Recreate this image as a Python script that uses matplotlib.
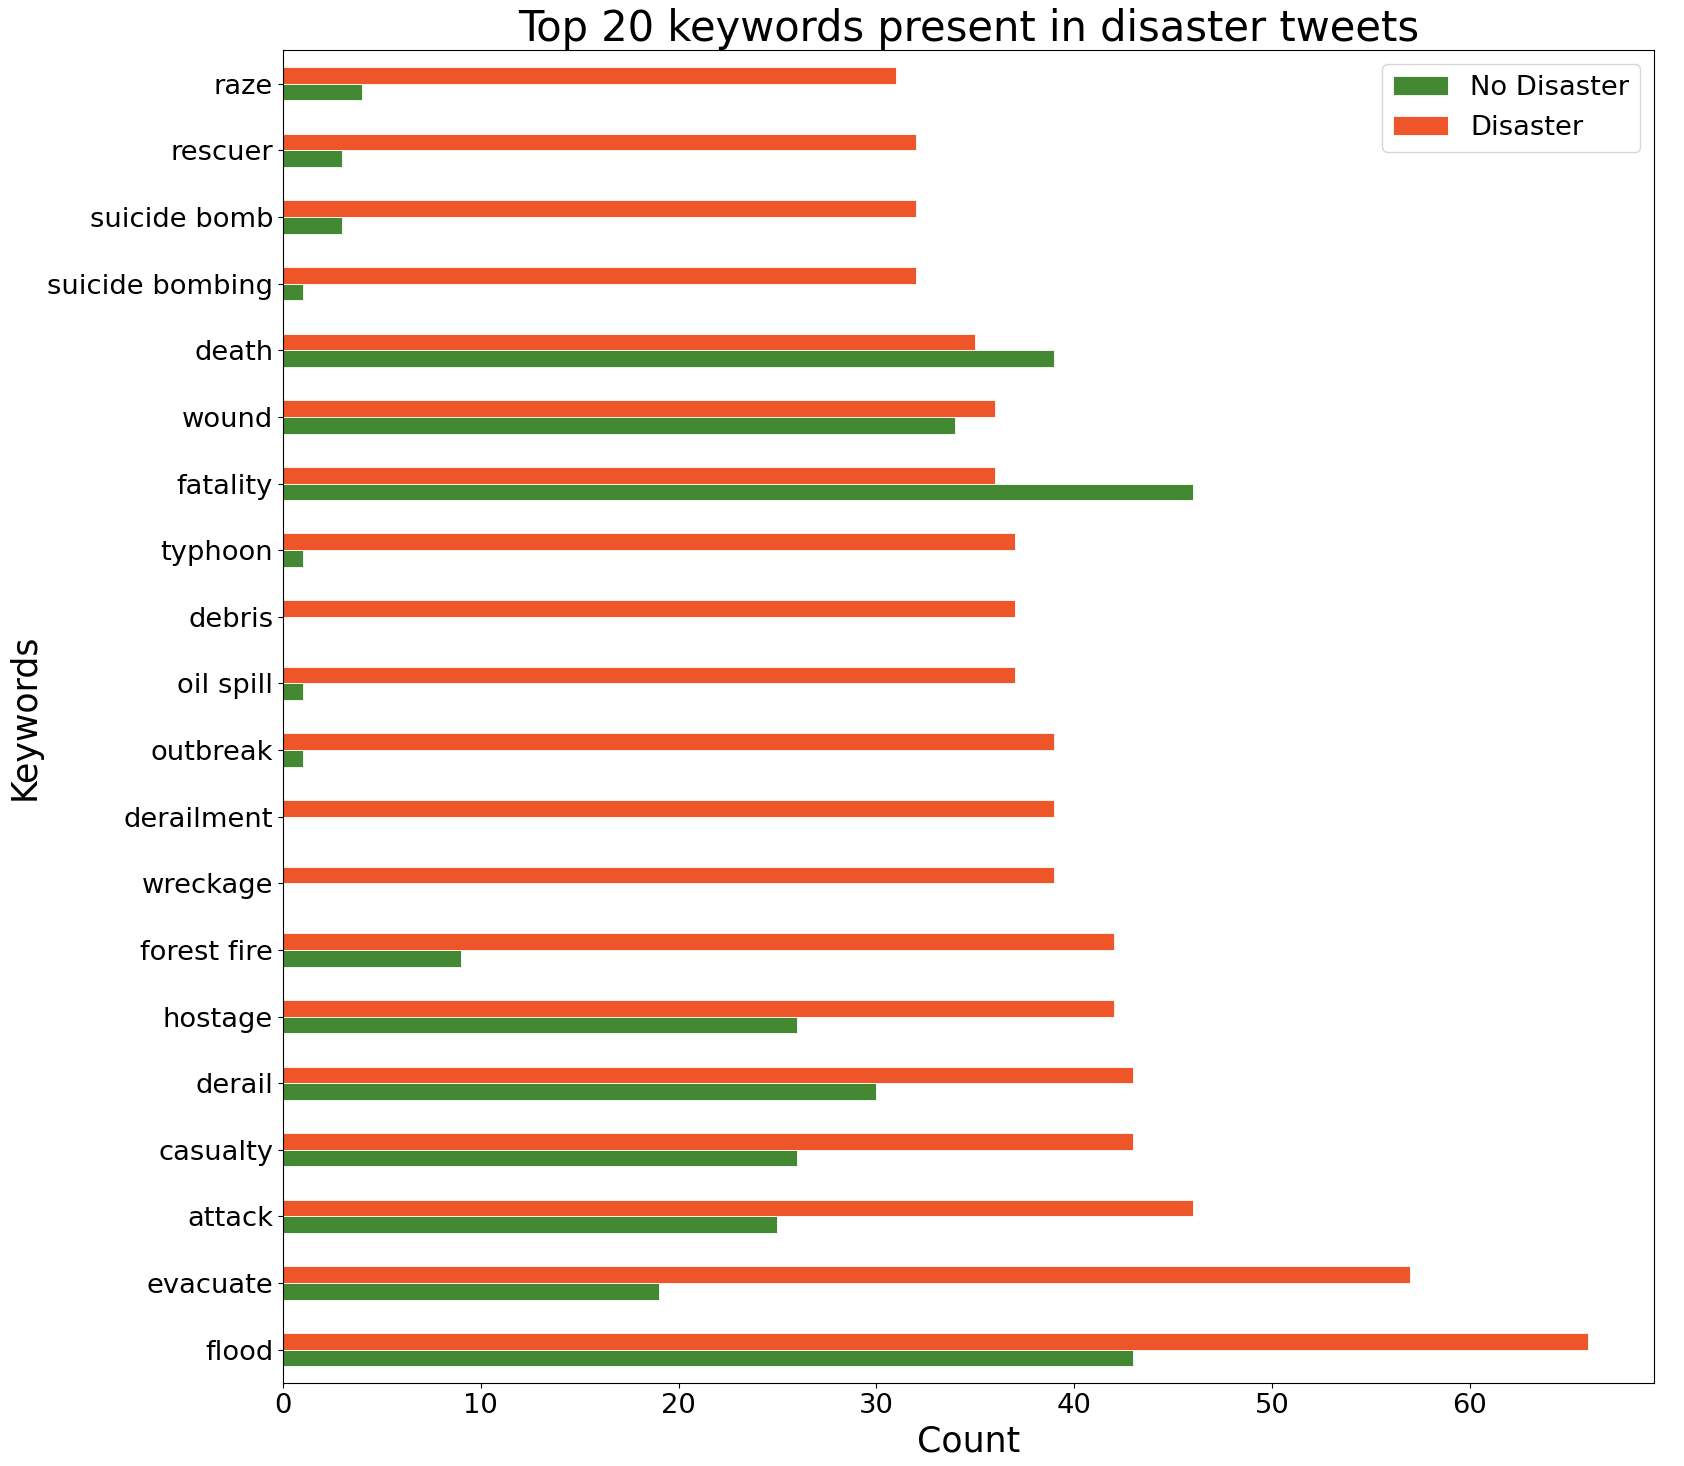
import numpy as np
import pandas as pd
import matplotlib
matplotlib.use('Agg')
import matplotlib.pyplot as plt

keywords = ['flood', 'evacuate', 'attack', 'casualty', 'derail', 'hostage', 'forest fire',
            'wreckage', 'derailment', 'outbreak', 'oil spill', 'debris', 'typhoon',
            'fatality', 'wound', 'death', 'suicide bombing', 'suicide bomb', 'rescuer', 'raze']
no_disaster = [43, 19, 25, 26, 30, 26, 9, 0, 0, 1, 1, 0, 1, 46, 34, 39, 1, 3, 3, 4]
disaster = [66, 57, 46, 43, 43, 42, 42, 39, 39, 39, 37, 37, 37, 36, 36, 35, 32, 32, 32, 31]

df = pd.DataFrame({'No Disaster': no_disaster, 'Disaster': disaster}, index=keywords)

fig = plt.figure(figsize=(16.84, 14.66), dpi=100, facecolor='white')
ax = fig.add_axes([0.168, 0.0566, 0.814, 0.909])

df.plot(kind='barh', ax=ax, color=['#438833', '#ee5529'], edgecolor='white', linewidth=0.6)

ax.set_title('Top 20 keywords present in disaster tweets', fontsize=30)
ax.set_xlabel('Count', fontsize=25)
ax.set_ylabel('Keywords', fontsize=25)
ax.tick_params(axis='both', labelsize=19.7)
ax.legend(fontsize=19.7, loc='upper right')

plt.savefig('out.png', dpi=100, facecolor=fig.get_facecolor())
